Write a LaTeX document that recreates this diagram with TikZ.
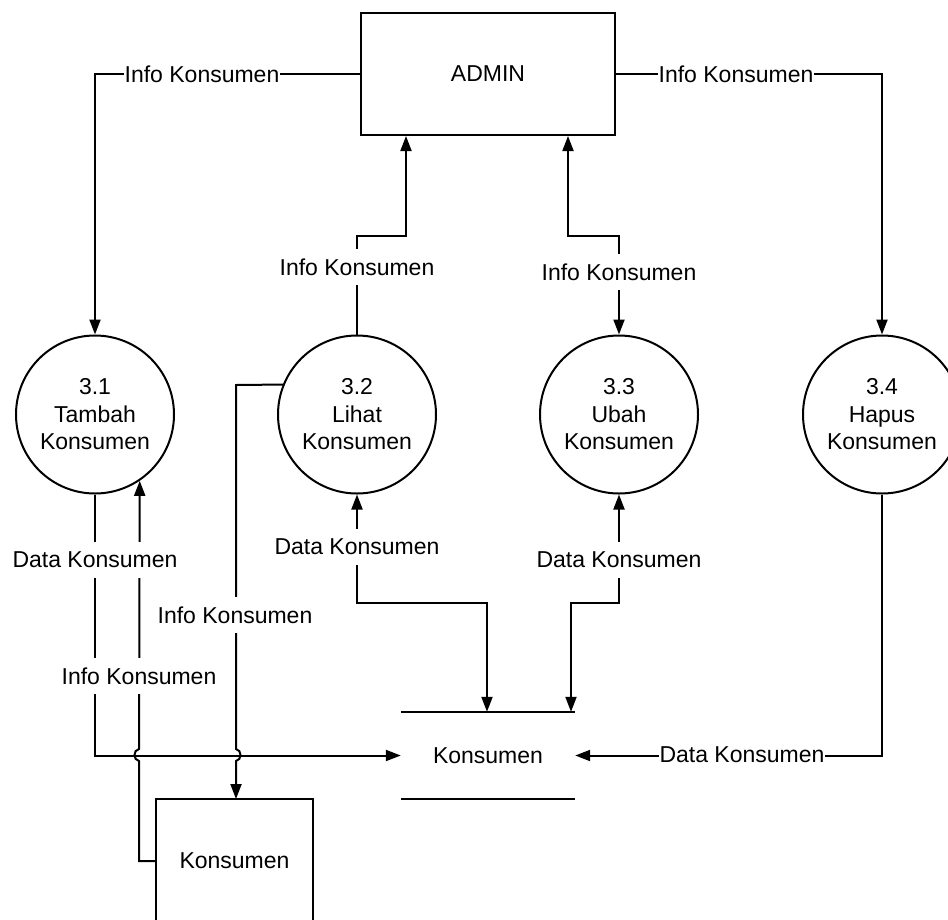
\documentclass[tikz,border=0pt]{standalone}
\usepackage{fontspec}
\setmainfont{Liberation Sans}
\usetikzlibrary{arrows.meta}
\begin{document}
\begin{tikzpicture}[x=1pt,y=-1pt,
  every node/.style={font=\fontsize{23pt}{27.5pt}\selectfont},
  proc/.style={circle,draw,line width=2pt,minimum size=158pt,inner sep=0pt,align=center},
  ent/.style={rectangle,draw,line width=2pt,inner sep=0pt},
  store/.style={rectangle,inner sep=0pt,minimum width=174pt,minimum height=87pt},
  lbl/.style={fill=white,inner xsep=1pt,inner ysep=10pt},
  conn/.style={line width=2pt},
  flow/.style={conn,-{Triangle[length=15pt,width=11pt]}},
  flowb/.style={conn,{Triangle[length=15pt,width=11pt]}-{Triangle[length=15pt,width=11pt]}}]
\useasboundingbox (0,0) rectangle (948,919);
% nodes
\node[ent,minimum width=254pt,minimum height=122pt] (admin) at (488,74) {ADMIN};
\node[proc] (p31) at (95,414.5) {3.1\\Tambah\\Konsumen};
\node[proc] (p32) at (357,414.5) {3.2\\Lihat\\Konsumen};
\node[proc] (p33) at (619,414.5) {3.3\\Ubah\\Konsumen};
\node[proc] (p34) at (882,414.5) {3.4\\Hapus\\Konsumen};
\node[store] (ds) at (488,755.5) {Konsumen};
\draw[conn] (ds.north west) -- (ds.north east);
\draw[conn] (ds.south west) -- (ds.south east);
\node[ent,minimum width=157pt,minimum height=124pt] (ent) at (234.5,861) {Konsumen};
% helper coordinates
\coordinate (a32) at (406,236);
\coordinate (a33) at (568,236);
\coordinate (d32) at (487,603);
\coordinate (d33) at (571,603);
% connectors
\draw[flow] (admin.west) -| (p31.north);
\draw[flow] (admin.east) -| (p34.north);
\draw[flow] (p32.north) |- (a32) -- (a32 |- admin.south);
\draw[flowb] (a33 |- admin.south) -- (a33) -| (p33.north);
\draw[flow] (p31.south) |- (ds.west);
\draw[flow] (p34.south) |- (ds.east);
\draw[flowb] (p32.south) |- (d32) -- (d32 |- ds.north);
\draw[flowb] (p33.south) |- (d33) -- (d33 |- ds.north);
% with line hops over the horizontal flow at y=755
\draw[flow] (ent.west |- 0,861) -- (139,861) -- (139,761)
   .. controls (133,760) and (133,750) .. (139,749) -- (p31.-56);
\draw[flow] (p32.158) -- (236,385) -- (236,749)
   .. controls (242,750) and (242,760) .. (236,761) -- (236,799);
% labels
\node[lbl] (l1) at (202,74) {Info Konsumen};
\node[lbl] (l2) at (736,74) {Info Konsumen};
\node[lbl] (l3) at (357,267) {Info Konsumen};
\node[lbl] (l4) at (619,272) {Info Konsumen};
\node[lbl] (l5) at (95,560) {Data Konsumen};
\node[lbl] (l6) at (139,676) {Info Konsumen};
\node[lbl] (l7) at (235,615) {Info Konsumen};
\node[lbl] (l8) at (357,547) {Data Konsumen};
\node[lbl] (l9) at (619,560) {Data Konsumen};
\node[lbl] (l10) at (742,755) {Data Konsumen};
\end{tikzpicture}
\end{document}
